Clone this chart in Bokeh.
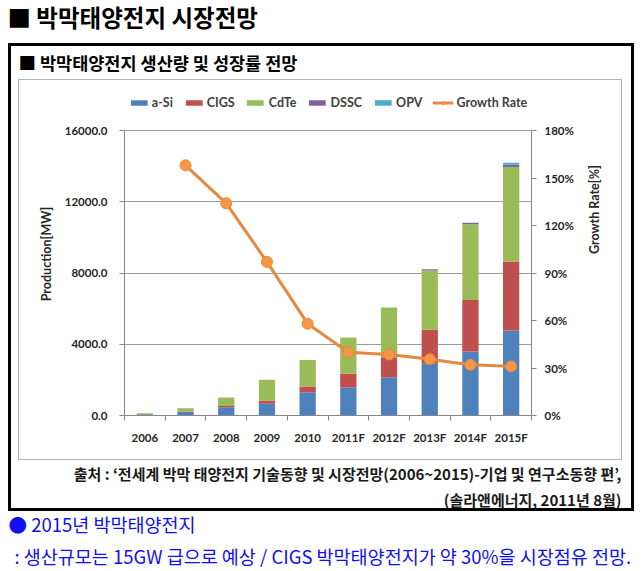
import math
from bokeh.plotting import figure
from bokeh.models import (Range1d, LinearAxis, FixedTicker, NumeralTickFormatter,
                          PrintfTickFormatter, Legend, LegendItem, Title,
                          ColumnDataSource, InlineStyleSheet)
from bokeh.embed import file_html
from bokeh.resources import INLINE

# ---------------- data ----------------
years = ["2006", "2007", "2008", "2009", "2010", "2011F", "2012F", "2013F", "2014F", "2015F"]
a_si = [70, 190, 470, 655, 1310, 1590, 2150, 2900, 3590, 4770]
cigs = [0, 20, 70, 190, 320, 750, 1120, 1910, 2900, 3880]
cdte = [60, 200, 470, 1160, 1480, 2040, 2790, 3330, 4250, 5300]
dssc = [0, 0, 0, 0, 0, 0, 0, 75, 75, 130]
opv = [0, 0, 0, 0, 0, 0, 0, 0, 0, 110]
growth_years = ["2007", "2008", "2009", "2010", "2011F", "2012F", "2013F", "2014F", "2015F"]
growth = [158, 134, 97, 58, 40, 38.5, 35.5, 32, 31]

series_names = ["a-Si", "CIGS", "CdTe", "DSSC", "OPV"]
series_colors = ["#4F81BD", "#C0504D", "#9BBB59", "#8064A2", "#4BACC6"]
prod_ticks = [0, 4000, 8000, 12000, 16000]
rate_ticks = [0, 30, 60, 90, 120, 150, 180]

main_title = "■ 박막태양전지 시장전망"
sub_title = "■ 박막태양전지 생산량 및 성장률 전망"
source_1 = "출처 : ‘전세계 박막 태양전지 기술동향 및 시장전망(2006~2015)-기업 및 연구소동향 편’,"
source_2 = "(솔라앤에너지, 2011년 8월)"
note_1 = "● 2015년 박막태양전지"
note_2 = ": 생산규모는 15GW 급으로 예상 / CIGS 박막태양전지가 약 30%을 시장점유 전망."

# ---------------- layout (canvas px == page px) ----------------
W, H = 642, 571
FL, FR, FB = 124, 531, 415     # frame left / right / bottom
PLOT_TOP = 130                 # where the top tick (16000 / 180%) sits
FT = 92                        # frame top (legend lives between FT and PLOT_TOP)
scale = (FB - FT) / (FB - PLOT_TOP)
prod_max, rate_max = prod_ticks[-1], rate_ticks[-1]

p = figure(width=W, height=H, output_backend="svg", toolbar_location=None,
           x_range=Range1d(-0.5, len(years) - 0.5),
           y_range=Range1d(0, prod_max * scale),
           min_border_left=FL, min_border_right=W - FR,
           min_border_top=FT, min_border_bottom=H - FB)
p.title = None
p.extra_y_ranges = {"rate": Range1d(0, rate_max * scale)}
p.outline_line_color = None
p.background_fill_color = "white"
p.border_fill_color = "white"

xs = list(range(len(years)))
src = ColumnDataSource(dict(x=xs, **{"a-Si": a_si, "CIGS": cigs, "CdTe": cdte,
                                     "DSSC": dssc, "OPV": opv}))
bars = p.vbar_stack(series_names, x="x", width=0.4, color=series_colors,
                    line_color=None, source=src)

gx = [years.index(y) for y in growth_years]
gsrc = ColumnDataSource(dict(x=gx, g=growth))
gl = p.line("x", "g", source=gsrc, y_range_name="rate", line_color="#E6893E", line_width=3)
gm = p.scatter("x", "g", source=gsrc, y_range_name="rate", size=11,
               fill_color="#F79646", line_color="#E6893E", line_width=1)

TICK_FONT = "Lato"
ya = p.yaxis[0]
ya.ticker = FixedTicker(ticks=prod_ticks)
ya.formatter = NumeralTickFormatter(format="0.0")
ya.axis_label = "Production[MW]"
ya.bounds = (0, prod_max)
ra = LinearAxis(y_range_name="rate", ticker=FixedTicker(ticks=rate_ticks),
                formatter=PrintfTickFormatter(format="%d%%"), axis_label="Growth Rate[%]",
                bounds=(0, rate_max))
p.add_layout(ra, "right")
for ax in (ya, ra):
    ax.axis_line_color = "#868686"
    ax.major_tick_line_color = "#868686"
    ax.major_tick_out = 5
    ax.major_tick_in = 0
    ax.minor_tick_line_color = None
    ax.major_label_text_font = TICK_FONT
    ax.major_label_text_font_style = "bold"
    ax.major_label_text_font_size = "11.5px"
    ax.major_label_text_color = "#262626"
    ax.axis_label_text_font = TICK_FONT
    ax.axis_label_text_font_style = "bold"
    ax.axis_label_text_font_size = "12.5px"
    ax.axis_label_text_color = "#262626"
ya.major_label_standoff = 12
ya.axis_label_standoff = 8
ra.major_label_standoff = 8
ra.axis_label_standoff = 18
ra.axis_label_orientation = math.pi / 2

xa = p.xaxis[0]
xa.ticker = FixedTicker(ticks=xs, minor_ticks=[i - 0.5 for i in range(len(years) + 1)])
xa.major_label_overrides = {i: y for i, y in enumerate(years)}
xa.major_tick_line_color = None
xa.minor_tick_line_color = "#868686"
xa.minor_tick_out = 5
xa.minor_tick_in = 0
xa.axis_line_color = "#868686"
xa.major_label_text_font = TICK_FONT
xa.major_label_text_font_style = "bold"
xa.major_label_text_font_size = "11.5px"
xa.major_label_text_color = "#262626"
xa.major_label_standoff = 9

p.xgrid.grid_line_color = None
p.ygrid.ticker = FixedTicker(ticks=prod_ticks)
p.ygrid.grid_line_color = "#9a9a9a"

# legend (inside the extended frame, above the plot area)
items = [LegendItem(label=n, renderers=[r]) for n, r in zip(series_names, bars)]
items.append(LegendItem(label="Growth Rate", renderers=[gl, gm]))
leg = Legend(items=items, orientation="horizontal", location="top_center",
             glyph_width=21, glyph_height=7, label_standoff=3, spacing=10,
             padding=0, margin=3, border_line_color=None, background_fill_alpha=0,
             label_text_font=TICK_FONT, label_text_font_style="bold",
             label_text_font_size="12.5px", label_text_color="#404040", label_height=14)
p.add_layout(leg, "center")

KR = "Noto Sans CJK KR"
def title(text, where, size, align, offset, standoff, color="black", style="bold"):
    t = Title(text=text, align=align, offset=offset, standoff=standoff,
              text_font=KR, text_font_size=size, text_font_style=style,
              text_color=color)
    p.add_layout(t, where)

title(sub_title, "above", "17.5px", "left", -106, 35)
title(main_title, "above", "23.5px", "left", -117, -6)
title(source_1, "below", "15px", "right", -90, 28, color="#1a1a1a")
title(source_2, "below", "15px", "right", -90, -21, color="#1a1a1a")
title(note_1, "below", "18.5px", "left", -116, 19, color="#1010f0", style="normal")
title(note_2, "below", "18.5px", "left", -110, -12, color="#1010f0", style="normal")

css = """
:host { position: relative; }
:host::before { content: ""; position: absolute; left: 8px; top: 43px; width: 626px; height: 468px;
  box-sizing: border-box; border: 3px solid #000; pointer-events: none; z-index: 5; }
:host::after { content: ""; position: absolute; left: 18px; top: 79px; width: 604px; height: 381px;
  box-sizing: border-box; border: 1px solid #b4b4b4; pointer-events: none; z-index: 5; }
"""
p.stylesheets = [InlineStyleSheet(css=css)]

open("out.html", "w").write(file_html(p, INLINE))
